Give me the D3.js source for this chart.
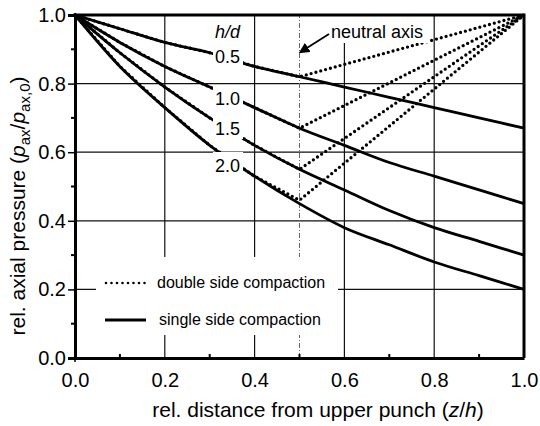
<!DOCTYPE html>
<html>
<head>
<meta charset="utf-8">
<script src="https://cdn.jsdelivr.net/npm/d3@7"></script>
<style>
    body { margin: 0; background: #fff; }
    svg { font-family: "Liberation Sans", Arial, Helvetica, sans-serif; }
</style>
</head>
<body>
<div id="chart"></div>
<script>

// x positions (z/h)
var zSingle = [0.0, 0.1, 0.2, 0.3, 0.4, 0.5, 0.6, 0.7, 0.8, 0.9, 1.0];
var zDouble = [0.0, 0.1, 0.2, 0.3, 0.4, 0.5, 1.0];

// single side compaction, one array per h/d
var single05 = [1.00, 0.96, 0.92, 0.89, 0.85, 0.82, 0.79, 0.76, 0.73, 0.70, 0.67];
var single10 = [1.00, 0.92, 0.85, 0.79, 0.73, 0.67, 0.62, 0.57, 0.53, 0.49, 0.45];
var single15 = [1.00, 0.89, 0.79, 0.70, 0.62, 0.55, 0.49, 0.43, 0.38, 0.34, 0.30];
var single20 = [1.00, 0.85, 0.73, 0.62, 0.53, 0.45, 0.38, 0.33, 0.28, 0.24, 0.20];

// double side compaction (same as single up to the neutral axis, then back to 1)
var double05 = [1.00, 0.96, 0.92, 0.89, 0.85, 0.82, 1.00];
var double10 = [1.00, 0.92, 0.85, 0.79, 0.73, 0.67, 1.00];
var double15 = [1.00, 0.89, 0.79, 0.70, 0.62, 0.55, 1.00];
var double20 = [1.00, 0.85, 0.73, 0.62, 0.53, 0.46, 1.00];

var hdLabels = ["0.5", "1.0", "1.5", "2.0"];
var xTicks = [0.0, 0.2, 0.4, 0.6, 0.8, 1.0];
var yTicks = [0.0, 0.2, 0.4, 0.6, 0.8, 1.0];
var minorTicks = [0.1, 0.3, 0.5, 0.7, 0.9];
var neutralZ = 0.5;

var width = 540,
    height = 426;

var svg = d3.select("#chart")
    .append("svg")
    .attr("width", width)
    .attr("height", height);

var xScale = d3.scaleLinear().domain([0, 1]).range([75, 524]);
var yScale = d3.scaleLinear().domain([0, 1]).range([358, 15]);

// grid lines
svg.selectAll(".vgrid")
    .data(xTicks.slice(1, 5))
    .enter()
    .append("line")
    .attr("x1", function(d) { return xScale(d); })
    .attr("x2", function(d) { return xScale(d); })
    .attr("y1", yScale(0))
    .attr("y2", yScale(1))
    .attr("stroke", "#111")
    .attr("stroke-width", 1.2);

svg.selectAll(".hgrid")
    .data(yTicks.slice(1, 5))
    .enter()
    .append("line")
    .attr("y1", function(d) { return yScale(d); })
    .attr("y2", function(d) { return yScale(d); })
    .attr("x1", xScale(0))
    .attr("x2", xScale(1))
    .attr("stroke", "#111")
    .attr("stroke-width", 1.2);

// neutral axis (dash-dot)
svg.append("line")
    .attr("x1", xScale(neutralZ))
    .attr("x2", xScale(neutralZ))
    .attr("y1", yScale(0))
    .attr("y2", yScale(1))
    .attr("stroke", "#666")
    .attr("stroke-width", 1)
    .attr("stroke-dasharray", "5,2,1,2");

// curves
var lineSingle = d3.line()
    .x(function(d) { return xScale(d[0]); })
    .y(function(d) { return yScale(d[1]); })
    .curve(d3.curveMonotoneX);

var lineDouble = d3.line()
    .x(function(d) { return xScale(d[0]); })
    .y(function(d) { return yScale(d[1]); });

[single05, single10, single15, single20].forEach(function(s) {
    svg.append("path")
        .datum(d3.zip(zSingle, s))
        .attr("d", lineSingle)
        .attr("fill", "none")
        .attr("stroke", "#000")
        .attr("stroke-width", 2.8);
});

[double05, double10, double15, double20].forEach(function(s) {
    svg.append("path")
        .datum(d3.zip(zDouble, s))
        .attr("d", lineDouble)
        .attr("fill", "none")
        .attr("stroke", "#000")
        .attr("stroke-width", 3.3)
        .attr("stroke-linecap", "round")
        .attr("stroke-dasharray", "0,5");
});

// h/d labels sit on the curves, white boxes cut the lines
var labelBase = [63, 105, 135, 172];
var labelX = 215;

svg.selectAll(".hdbox")
    .data(hdLabels)
    .enter()
    .append("rect")
    .attr("x", labelX - 2)
    .attr("y", function(d, i) { return labelBase[i] - 20; })
    .attr("width", 30)
    .attr("height", 24)
    .attr("fill", "#fff");

svg.selectAll(".hdlabel")
    .data(hdLabels)
    .enter()
    .append("text")
    .attr("x", labelX)
    .attr("y", function(d, i) { return labelBase[i]; })
    .attr("font-size", 18)
    .text(function(d) { return d; });

svg.append("text")
    .attr("x", labelX)
    .attr("y", 38)
    .attr("font-size", 18)
    .attr("font-style", "italic")
    .text("h/d");

// neutral axis annotation
svg.append("rect")
    .attr("x", 328)
    .attr("y", yScale(1))
    .attr("width", 102)
    .attr("height", 28)
    .attr("fill", "#fff");

svg.append("text")
    .attr("x", 331)
    .attr("y", 38)
    .attr("font-size", 18)
    .text("neutral axis");

svg.append("defs")
    .append("marker")
    .attr("id", "arrow")
    .attr("viewBox", "0 0 10 10")
    .attr("refX", 8)
    .attr("refY", 5)
    .attr("markerWidth", 6)
    .attr("markerHeight", 6)
    .attr("orient", "auto")
    .append("path")
    .attr("d", "M0,0L10,5L0,10z")
    .attr("fill", "#000");

svg.append("line")
    .attr("x1", 329)
    .attr("y1", 34)
    .attr("x2", xScale(neutralZ) + 1)
    .attr("y2", 52)
    .attr("stroke", "#000")
    .attr("stroke-width", 1.8)
    .attr("marker-end", "url(#arrow)");

// legend
svg.append("rect")
    .attr("x", 96)
    .attr("y", 257)
    .attr("width", 242)
    .attr("height", 78)
    .attr("fill", "#fff");

svg.append("line")
    .attr("x1", 106).attr("x2", 147)
    .attr("y1", 283).attr("y2", 283)
    .attr("stroke", "#000")
    .attr("stroke-width", 2.6)
    .attr("stroke-linecap", "round")
    .attr("stroke-dasharray", "0,5.5");

svg.append("line")
    .attr("x1", 105).attr("x2", 146)
    .attr("y1", 320).attr("y2", 320)
    .attr("stroke", "#000")
    .attr("stroke-width", 3);

svg.append("text")
    .attr("x", 157).attr("y", 288)
    .attr("font-size", 16)
    .text("double side compaction");

svg.append("text")
    .attr("x", 159).attr("y", 325)
    .attr("font-size", 16)
    .text("single side compaction");

// axes
var xAxis = d3.axisBottom(xScale)
    .tickValues(xTicks)
    .tickFormat(d3.format(".1f"))
    .tickSize(0)
    .tickPadding(15);

var gx = svg.append("g")
    .attr("class", "axis x-axis")
    .attr("transform", "translate(0," + yScale(0) + ")")
    .call(xAxis);

gx.select(".domain").attr("stroke-width", 3);
gx.selectAll("text").attr("font-size", 20).attr("fill", "#000");

var yAxis = d3.axisLeft(yScale)
    .tickValues(yTicks)
    .tickFormat(d3.format(".1f"))
    .tickSize(7)
    .tickPadding(2);

var gy = svg.append("g")
    .attr("class", "axis y-axis")
    .attr("transform", "translate(" + xScale(0) + ",0)")
    .call(yAxis);

gy.select(".domain").attr("stroke-width", 3);
gy.selectAll("line").attr("stroke-width", 1.5);
gy.selectAll("text").attr("font-size", 20).attr("fill", "#000");

// minor ticks
svg.selectAll(".xminor")
    .data(minorTicks)
    .enter()
    .append("line")
    .attr("x1", function(d) { return xScale(d); })
    .attr("x2", function(d) { return xScale(d); })
    .attr("y1", yScale(0))
    .attr("y2", yScale(0) - 4)
    .attr("stroke", "#000")
    .attr("stroke-width", 2);

svg.selectAll(".yminor")
    .data(minorTicks)
    .enter()
    .append("line")
    .attr("y1", function(d) { return yScale(d); })
    .attr("y2", function(d) { return yScale(d); })
    .attr("x1", xScale(0))
    .attr("x2", xScale(0) - 4)
    .attr("stroke", "#000")
    .attr("stroke-width", 2);

svg.append("line")
    .attr("x1", xScale(0)).attr("x2", xScale(0))
    .attr("y1", yScale(0)).attr("y2", yScale(0) + 4)
    .attr("stroke", "#000")
    .attr("stroke-width", 1.5);

// top and right frame
svg.append("path")
    .attr("d", "M" + xScale(0) + "," + yScale(1) + "H" + xScale(1) + "V" + yScale(0))
    .attr("fill", "none")
    .attr("stroke", "#000")
    .attr("stroke-width", 3);

// axis titles
svg.append("text")
    .attr("x", 318)
    .attr("y", 417)
    .attr("text-anchor", "middle")
    .attr("font-size", 21)
    .html('rel. distance from upper punch (<tspan font-style="italic">z</tspan>/<tspan font-style="italic">h</tspan>)');

svg.append("text")
    .attr("transform", "translate(25,206) rotate(-90)")
    .attr("text-anchor", "middle")
    .attr("font-size", 21)
    .html('rel. axial pressure (<tspan font-style="italic">p</tspan><tspan font-size="15" dy="5">ax</tspan><tspan dy="-5">/</tspan><tspan font-style="italic">p</tspan><tspan font-size="15" dy="5">ax,0</tspan><tspan dy="-5">)</tspan>');

</script>
</body>
</html>
